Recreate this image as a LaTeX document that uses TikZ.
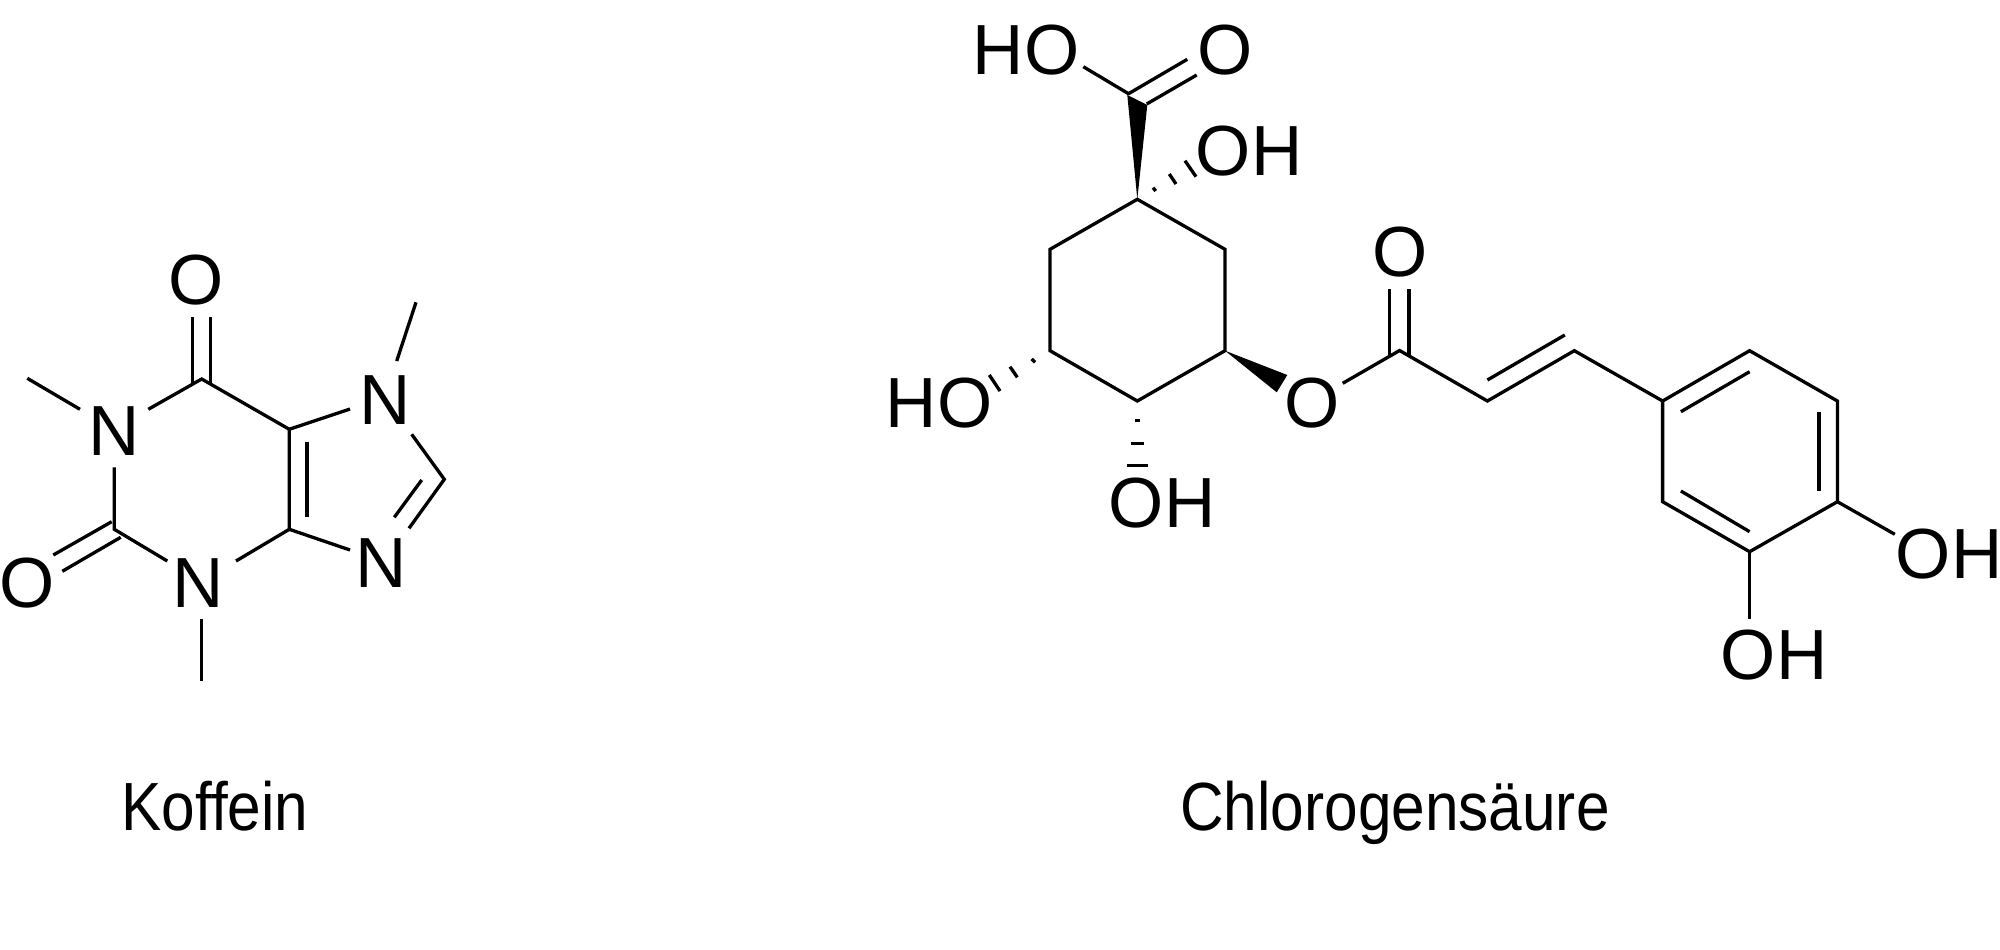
\documentclass[tikz,border=0pt]{standalone}
\usepackage{fontspec}
\usepackage{graphicx}
\setmainfont{Liberation Sans}
\tikzset{
  bond/.style={line width=4.7pt,line join=miter,miter limit=10,line cap=butt,black},
  hashb/.style={line width=4.7pt,line cap=butt,black},
  atom/.style={inner sep=0pt,outer sep=0pt,font=\fontsize{101}{101}\selectfont,text=black},
  caption/.style={inner sep=0pt,outer sep=0pt,anchor=base,font=\fontsize{97}{97}\selectfont,text=black}
}
\begin{document}
\begin{tikzpicture}[x=0.05cm,y=-0.05cm]
\useasboundingbox (0,0) rectangle (2000,950);
% ---------- Koffein ----------
\coordinate (kC6) at (201.7,379);
\coordinate (kC5) at (289.3,429.3);
\coordinate (kC4) at (289.3,529.3);
\coordinate (kC2) at (114.3,529.3);
\coordinate (kC8) at (444.3,479.3);
\coordinate (kMe1) at (27.3,378.3);
\coordinate (kMe1b) at (80,409.3);
\coordinate (kN1a) at (148.3,409.3);
\coordinate (kN1b) at (114.3,467.3);
\coordinate (kN3a) at (167.3,561);
\coordinate (kN3b) at (236,561);
\coordinate (kMe3a) at (201.7,619);
\coordinate (kMe3b) at (201.7,680.7);
\coordinate (kN7a) at (350,409);
\coordinate (kN7b) at (411.7,434.3);
\coordinate (kMe7a) at (396.7,361);
\coordinate (kMe7b) at (416,302.3);
\coordinate (kN9a) at (350,550);
\coordinate (kN9b) at (409,528.3);
\coordinate (kI1) at (307,442.3);
\coordinate (kI2) at (307,516.7);
\coordinate (kI3) at (421.7,480);
\coordinate (kI4) at (394.3,517.3);
\coordinate (kO6a) at (192.7,317.3);
\coordinate (kO6b) at (192.7,383);
\coordinate (kO6c) at (210.7,317.3);
\coordinate (kO6d) at (210.7,383);
\coordinate (kO2a) at (53.3,555);
\coordinate (kO2b) at (111.7,521.7);
\coordinate (kO2c) at (62.3,571.3);
\coordinate (kO2d) at (120.7,537.3);
\node[atom] (kO6) at (195.7,280) {O};
\node[atom] (kN1) at (114.3,431) {N};
\node[atom] (kO2) at (27.3,582.7) {O};
\node[atom] (kN3) at (198,582.7) {N};
\node[atom] (kN7) at (385,400) {N};
\node[atom] (kN9) at (381,563.3) {N};
\draw[bond] (kMe1) -- (kMe1b);
\draw[bond] (kN1a) -- (kC6) -- (kC5) -- (kC4) -- (kN3b);
\draw[bond] (kN1b) -- (kC2) -- (kN3a);
\draw[bond] (kMe3a) -- (kMe3b);
\draw[bond] (kI1) -- (kI2);
\draw[bond] (kC5) -- (kN7a);
\draw[bond] (kMe7a) -- (kMe7b);
\draw[bond] (kN7b) -- (kC8) -- (kN9b);
\draw[bond] (kI3) -- (kI4);
\draw[bond] (kC4) -- (kN9a);
\draw[bond] (kO6a) -- (kO6b);
\draw[bond] (kO6c) -- (kO6d);
\draw[bond] (kO2a) -- (kO2b);
\draw[bond] (kO2c) -- (kO2d);
% ---------- Chlorogensaeure: quinic ring ----------
\coordinate (c1) at (1137.3,199.3);
\coordinate (c2) at (1225,249.3);
\coordinate (c3) at (1225,350.7);
\coordinate (c4) at (1137.3,401);
\coordinate (c5) at (1050,350.7);
\coordinate (c6) at (1050,249.3);
\draw[bond] (c1) -- (c2) -- (c3) -- (c4) -- (c5) -- (c6) -- cycle;
% carboxyl
\coordinate (wA) at (1127.3,95);
\coordinate (wB) at (1147.3,105);
\fill[black] (c1) -- (wA) -- (wB) -- cycle;
\coordinate (hoA) at (1083.3,66.7);
\coordinate (hoB) at (1129,94);
\coordinate (oA) at (1187.3,59.3);
\coordinate (oB) at (1128,94);
\coordinate (oC) at (1196.7,75);
\coordinate (oD) at (1146.7,104);
\draw[bond] (hoA) -- (hoB);
\draw[bond] (oA) -- (oB);
\draw[bond] (oC) -- (oD);
\node[atom] (HOa) at (1026,50) {HO};
\node[atom] (Oa) at (1225,50) {O};
\node[atom] (OHb) at (1249,151) {OH};
% hashed bonds
\coordinate (h1a) at (1153,187.7);  \coordinate (h1b) at (1155.7,191);
\coordinate (h2a) at (1169.3,174);  \coordinate (h2b) at (1176,184);
\coordinate (h3a) at (1185,160.7);  \coordinate (h3b) at (1196,176.7);
\draw[hashb] (h1a) -- (h1b);
\draw[hashb] (h2a) -- (h2b);
\draw[hashb] (h3a) -- (h3b);
\coordinate (l1a) at (1031.7,359);  \coordinate (l1b) at (1035,362.3);
\coordinate (l2a) at (1010,366.7);  \coordinate (l2b) at (1017.3,377.3);
\coordinate (l3a) at (989.3,375);   \coordinate (l3b) at (1000,391);
\draw[hashb] (l1a) -- (l1b);
\draw[hashb] (l2a) -- (l2b);
\draw[hashb] (l3a) -- (l3b);
\coordinate (b1a) at (1135,420.7);   \coordinate (b1b) at (1140,420.7);
\coordinate (b2a) at (1130.7,443.3); \coordinate (b2b) at (1144,443.3);
\coordinate (b3a) at (1127.3,465.7); \coordinate (b3b) at (1147.7,465.7);
\draw[hashb] (b1a) -- (b1b);
\draw[hashb] (b2a) -- (b2b);
\draw[hashb] (b3a) -- (b3b);
\node[atom] (HOc) at (939,402.7) {HO};
\node[atom] (OHd) at (1162,503.3) {OH};
% ester
\coordinate (weA) at (1287.3,375);
\coordinate (weB) at (1276.7,392.3);
\fill[black] (c3) -- (weA) -- (weB) -- cycle;
\node[atom] (Oe) at (1312.3,402.7) {O};
\coordinate (eA) at (1342.7,383.3);
\coordinate (eC) at (1399.6,350.5);
\coordinate (cA) at (1487.4,401);
\coordinate (cB) at (1574.3,350.7);
\coordinate (r1) at (1662.6,401);
\draw[bond] (eA) -- (eC) -- (cA) -- (cB) -- (r1);
\coordinate (eo1) at (1389.6,289.3); \coordinate (eo2) at (1389.6,355.5);
\coordinate (eo3) at (1409,289.3);   \coordinate (eo4) at (1409,355.5);
\draw[bond] (eo1) -- (eo2);
\draw[bond] (eo3) -- (eo4);
\node[atom] (Of) at (1399.6,251.7) {O};
\coordinate (cI1) at (1487.4,380);
\coordinate (cI2) at (1564.8,335);
\draw[bond] (cI1) -- (cI2);
% aromatic ring
\coordinate (r2) at (1749.6,350.7);
\coordinate (r3) at (1837.4,401);
\coordinate (r4) at (1837.4,501.7);
\coordinate (r5) at (1749.6,551.7);
\coordinate (r6) at (1662.6,501.7);
\draw[bond] (r1) -- (r2) -- (r3) -- (r4) -- (r5) -- (r6) -- cycle;
\coordinate (i1) at (1680.9,411.7); \coordinate (i2) at (1749.6,371.7);
\coordinate (i3) at (1819,411.7);   \coordinate (i4) at (1819,491);
\coordinate (i5) at (1680.9,491);   \coordinate (i6) at (1749.6,531.7);
\draw[bond] (i1) -- (i2);
\draw[bond] (i3) -- (i4);
\draw[bond] (i5) -- (i6);
\coordinate (oh1) at (1894.8,534.3);
\coordinate (oh2) at (1749.6,619);
\draw[bond] (r4) -- (oh1);
\draw[bond] (r5) -- (oh2);
\node[atom] (OHg) at (1949,554.3) {OH};
\node[atom] (OHh) at (1774,655) {OH};
% captions
\node[caption] (capK) at (215,830) {\scalebox{0.885}[1]{Koffein}};
\node[caption] (capC) at (1395,830) {\scalebox{0.885}[1]{Chlorogensäure}};
\end{tikzpicture}
\end{document}
